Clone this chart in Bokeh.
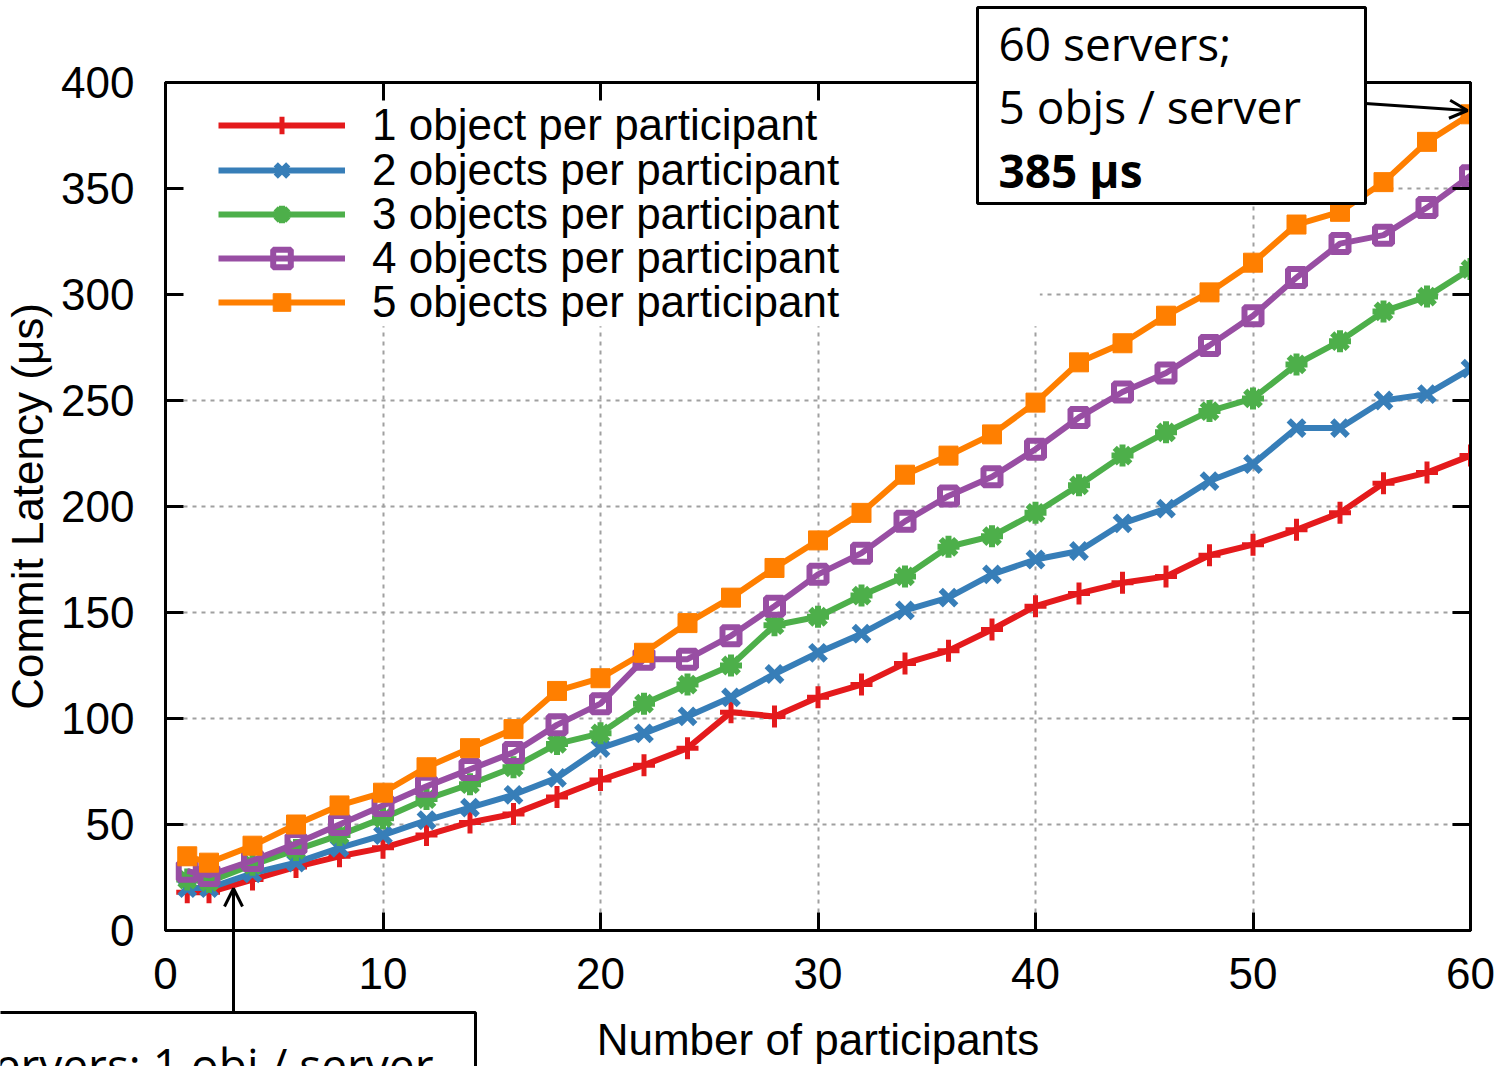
from bokeh.plotting import figure
from bokeh.models import (LinearAxis, Legend, LegendItem, BoxAnnotation,
                          Arrow, OpenHead, FixedTicker, Range1d)
from bokeh.core.properties import value
from bokeh.embed import file_html
from bokeh.resources import INLINE

# ---------------- data ----------------
participants = [1, 2, 4, 6, 8, 10, 12, 14, 16, 18, 20, 22, 24, 26, 28, 30,
                32, 34, 36, 38, 40, 42, 44, 46, 48, 50, 52, 54, 56, 58, 60]
obj1 = [18, 18, 24, 30, 35, 39, 45, 51, 55, 63, 71, 78, 86, 103, 101, 110,
        116, 126, 132, 142, 153, 159, 164, 167, 177, 182, 189, 197, 211, 216, 224]
obj2 = [20, 20, 27, 32, 39, 45, 52, 58, 64, 72, 86, 93, 101, 110, 121, 131,
        140, 151, 157, 168, 175, 179, 192, 199, 212, 220, 237, 237, 250, 253, 265]
obj3 = [24, 23, 31, 38, 45, 53, 62, 69, 77, 88, 93, 107, 116, 125, 144, 148,
        158, 167, 181, 186, 197, 210, 224, 235, 245, 251, 267, 278, 292, 299, 312]
obj4 = [28, 26, 33, 41, 50, 59, 68, 76, 84, 97, 107, 128, 128, 139, 153, 168,
        178, 193, 205, 214, 227, 242, 254, 263, 276, 290, 308, 324, 328, 341, 356]
obj5 = [35, 32, 40, 50, 59, 65, 77, 86, 95, 113, 119, 131, 145, 157, 171, 184,
        197, 215, 224, 234, 249, 268, 277, 290, 301, 315, 333, 339, 353, 372, 385]
series_labels = ["1 object per participant", "2 objects per participant",
                 "3 objects per participant", "4 objects per participant",
                 "5 objects per participant"]
x_ticks = [0, 10, 20, 30, 40, 50, 60]
y_ticks = [0, 50, 100, 150, 200, 250, 300, 350, 400]
note_top_lines = ["60 servers;", "5 objs / server", "385 μs"]
note_bottom_text = "2 servers; 1 obj / server"

# ---------------- styles ----------------
colors = ["#e41a1c", "#377eb8", "#4daf4a", "#984ea3", "#ff7f00"]
markers = ["cross", "x", "asterisk", "square", "square"]
msizes = [22, 22, 22, 17, 19]
mlines = [5, 6, 6, 6, 1]
key_offsets = [780, 735, 691, 647, 603]   # key rows: px from frame bottom
FONT = "Liberation Sans"
NOTE_FONT = "Open Sans"

p = figure(width=1509, height=1066, x_range=Range1d(0, 60), y_range=Range1d(0, 400),
           output_backend="svg", toolbar_location=None,
           min_border_left=163, min_border_right=39, min_border_top=82, min_border_bottom=136,
           x_axis_label="Number of participants", y_axis_label="Commit Latency (μs)")
p.outline_line_color = "black"
p.outline_line_width = 3
p.background_fill_color = "white"
p.border_fill_color = "white"

p.xaxis.ticker = FixedTicker(ticks=x_ticks)
p.yaxis.ticker = FixedTicker(ticks=y_ticks)
for ax in (p.xaxis[0], p.yaxis[0]):
    ax.axis_line_width = 3
    ax.axis_line_color = "black"
    ax.major_tick_line_width = 3
    ax.major_tick_line_color = "black"
    ax.major_tick_in = 18
    ax.major_tick_out = 0
    ax.minor_tick_line_color = None
    ax.major_label_text_font = FONT
    ax.major_label_text_font_size = "44px"
    ax.major_label_text_color = "black"
    ax.axis_label_text_font = FONT
    ax.axis_label_text_font_size = "44px"
    ax.axis_label_text_font_style = "normal"
    ax.axis_label_text_color = "black"
p.xaxis.major_label_standoff = 27
p.yaxis.major_label_standoff = 31
p.xaxis.axis_label_standoff = 23
p.yaxis.axis_label_standoff = 6

# mirror ticks on the top and right border (no labels)
for loc in ("right", "above"):
    ax = LinearAxis(ticker=FixedTicker(ticks=y_ticks if loc == "right" else x_ticks),
                    axis_line_width=3, major_tick_line_width=3, major_tick_in=18,
                    major_tick_out=0, minor_tick_line_color=None,
                    major_label_text_color=None, major_label_text_font_size="1px",
                    major_label_standoff=0)
    p.add_layout(ax, loc)

for g in (p.xgrid[0], p.ygrid[0]):
    g.grid_line_color = "#a0a0a0"
    g.grid_line_width = 2
    g.grid_line_dash = "4 5"

# white area behind the key (hides the grid there)
p.add_layout(BoxAnnotation(left=0, right=40.2, bottom=285, top=400,
                           fill_color="white", fill_alpha=1, line_color=None, level="glyph"))

for ys, lab, c, m, s, lw, off in zip([obj1, obj2, obj3, obj4, obj5], series_labels,
                                     colors, markers, msizes, mlines, key_offsets):
    lr = p.line(participants, ys, line_color=c, line_width=6)
    if c == "#984ea3":
        sr = p.scatter(participants, ys, marker=m, size=s, line_color=c, line_width=lw,
                       fill_alpha=0)
    else:
        sr = p.scatter(participants, ys, marker=m, size=s, line_color=c, line_width=lw,
                       fill_color=c)
    key = Legend(items=[LegendItem(label=lab, renderers=[lr, sr])], location=(53, off),
                 glyph_width=127, glyph_height=44, label_height=44, label_standoff=27,
                 spacing=0, padding=0, margin=0,
                 background_fill_alpha=0, border_line_color=None,
                 label_text_font=FONT, label_text_font_size="44px",
                 label_text_color="black")
    p.add_layout(key)

# ---------------- overlay figure for the call-out boxes (page pixels) ----------------
q = figure(width=1509, height=1066, x_range=Range1d(0, 1509), y_range=Range1d(1066, 0),
           output_backend="svg", toolbar_location=None, x_axis_type=None, y_axis_type=None,
           min_border=0, min_border_left=0, min_border_right=0, min_border_top=0,
           min_border_bottom=0, outline_line_color=None,
           background_fill_alpha=0, border_fill_alpha=0,
           styles={"position": "absolute", "left": "0px", "top": "0px"})

q.quad(left=[977, -20], right=[1365, 475], top=[7, 1012], bottom=[203, 1090],
       fill_color="white", line_color="black", line_width=3)
q.text(x=[998, 998], y=[42, 105], text=note_top_lines[:2],
       text_font=value(NOTE_FONT), text_font_size="46px", text_baseline="middle",
       text_align="left", text_color="black")
q.text(x=[998], y=[169], text=note_top_lines[2:],
       text_font=value(NOTE_FONT), text_font_size="46px", text_font_style="bold",
       text_baseline="middle", text_align="left", text_color="black")
q.text(x=[-66], y=[1063], text=[note_bottom_text],
       text_font=value(NOTE_FONT), text_font_size="46px", text_baseline="middle",
       text_align="left", text_color="black")
q.add_layout(Arrow(x_start=1365, y_start=103, x_end=1467, y_end=110, line_width=3,
                   line_color="black", end=OpenHead(size=18, line_width=3, line_color="black")))
q.add_layout(Arrow(x_start=233, y_start=1012, x_end=233, y_end=888, line_width=3,
                   line_color="black", end=OpenHead(size=18, line_width=3, line_color="black")))

open("out.html", "w").write(file_html([p, q], INLINE))
